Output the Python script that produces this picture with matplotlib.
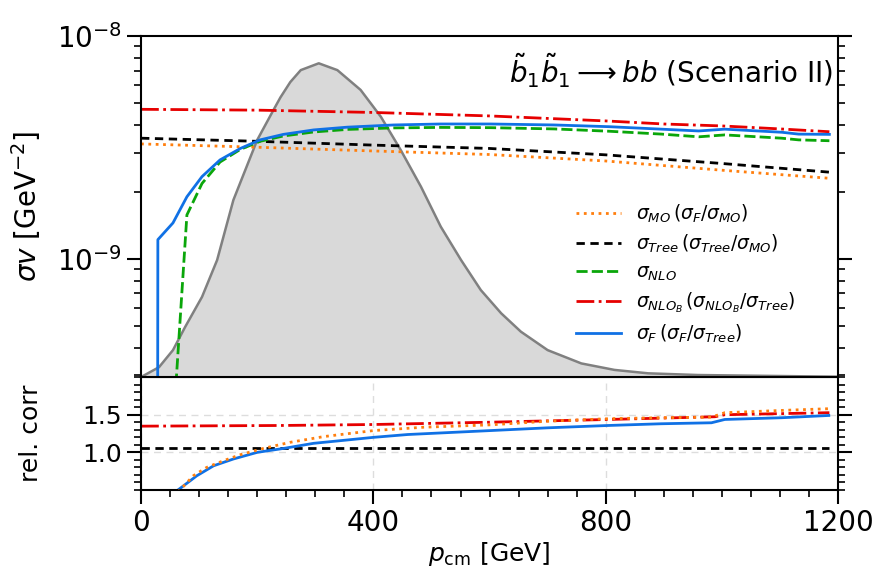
import matplotlib
matplotlib.use("Agg")
import matplotlib.pyplot as plt
from matplotlib.ticker import FixedLocator, MultipleLocator, NullFormatter, LogLocator

# momentum distribution (arbitrary units, fraction of panel height)
p_dist = [0, 31, 55, 76, 105, 131, 159, 200, 228, 240, 257, 275, 306, 338, 378, 413,
          447, 482, 516, 551, 585, 620, 654, 700, 758, 815, 873, 959, 1200]
f_dist = [0.0, 0.029, 0.079, 0.147, 0.235, 0.343, 0.519, 0.695, 0.783, 0.820, 0.865,
          0.900, 0.920, 0.900, 0.842, 0.763, 0.666, 0.558, 0.441, 0.343, 0.255, 0.187,
          0.133, 0.079, 0.040, 0.021, 0.011, 0.006, 0.001]

# cross sections, units of 1e-9 GeV^-2
p_mo = [0, 200, 400, 600, 800, 1000, 1185]
sig_mo = [3.28, 3.17, 3.05, 2.94, 2.75, 2.50, 2.30]
p_tree = [0, 200, 400, 600, 800, 1000, 1185]
sig_tree = [3.48, 3.37, 3.24, 3.13, 2.93, 2.68, 2.45]
p_nlo = [55, 79, 105, 136, 171, 205, 245, 297, 355, 435, 516, 602, 711, 805, 896,
         960, 1005, 1103, 1132, 1185]
sig_nlo = [0.17, 1.575, 2.18, 2.72, 3.10, 3.37, 3.56, 3.71, 3.81, 3.87, 3.89, 3.88,
           3.83, 3.74, 3.63, 3.53, 3.60, 3.48, 3.42, 3.39]
p_nlob = [0, 200, 400, 600, 800, 900, 1000, 1100, 1185]
sig_nlob = [4.69, 4.65, 4.54, 4.38, 4.16, 4.03, 3.95, 3.83, 3.72]
p_f = [28, 29, 55, 79, 105, 136, 171, 205, 245, 297, 355, 435, 516, 602, 711, 805,
       896, 960, 1005, 1103, 1132, 1185]
sig_f = [0.01, 1.22, 1.45, 1.90, 2.34, 2.78, 3.13, 3.42, 3.62, 3.79, 3.90, 3.99, 4.03,
         4.03, 3.99, 3.92, 3.82, 3.75, 3.82, 3.70, 3.63, 3.62]

# relative corrections
p_r_f_mo = [55, 90, 113, 142, 171, 211, 257, 315, 401, 487, 603, 700, 804, 896, 982,
            1005, 1103, 1184]
r_f_mo = [0.40, 0.689, 0.80, 0.889, 0.969, 1.053, 1.134, 1.21, 1.29, 1.334, 1.366,
          1.414, 1.447, 1.46, 1.468, 1.527, 1.557, 1.58]
p_r_tree_mo = [0, 1185]
r_tree_mo = [1.059, 1.059]
p_r_nlob_tree = [0, 240, 400, 603, 805, 988, 1005, 1185]
r_nlob_tree = [1.348, 1.357, 1.37, 1.401, 1.437, 1.473, 1.50, 1.527]
p_r_f_tree = [55, 96, 125, 159, 200, 246, 297, 344, 401, 459, 603, 700, 804, 896, 982,
              1005, 1103, 1184]
r_f_tree = [0.45, 0.689, 0.822, 0.912, 1.0, 1.053, 1.12, 1.156, 1.20, 1.237, 1.29,
            1.326, 1.357, 1.38, 1.393, 1.437, 1.46, 1.49]

c_mo, c_tree, c_nlo, c_nlob, c_f = "#ff7f0e", "black", "#0aa60a", "#e60000", "#1071e5"
lw = 2

fig = plt.figure(figsize=(8.88, 5.81), dpi=100)
ax = fig.add_axes([0.1588, 0.351, 0.785, 0.587])
axr = fig.add_axes([0.1588, 0.1566, 0.785, 0.1944], sharex=ax)

# distribution on a twin linear axis, behind the curves
tw = ax.twinx()
tw.fill_between(p_dist, 0, f_dist, color="#d9d9d9", lw=0)
tw.plot(p_dist, f_dist, color="#808080", lw=1.8)
tw.set_ylim(0, 1)
tw.set_axis_off()
ax.set_zorder(tw.get_zorder() + 1)
ax.patch.set_visible(False)

e = 1e-9
ax.plot(p_mo, [v * e for v in sig_mo], ls=":", color=c_mo, lw=lw,
        label=r"$\sigma_{MO}\,(\sigma_F/\sigma_{MO})$")
ax.plot(p_tree, [v * e for v in sig_tree], ls=(0, (3, 2)), color=c_tree, lw=lw,
        label=r"$\sigma_{Tree}\,(\sigma_{Tree}/\sigma_{MO})$")
ax.plot(p_nlo, [v * e for v in sig_nlo], ls=(0, (4, 1.5)), color=c_nlo, lw=lw,
        label=r"$\sigma_{NLO}$")
ax.plot(p_nlob, [v * e for v in sig_nlob], ls="-.", color=c_nlob, lw=lw,
        label=r"$\sigma_{NLO_B}\,(\sigma_{NLO_B}/\sigma_{Tree})$")
ax.plot(p_f, [v * e for v in sig_f], ls="-", color=c_f, lw=lw,
        label=r"$\sigma_F\,(\sigma_F/\sigma_{Tree})$")

ax.set_yscale("log")
ax.set_ylim(2.95e-10, 1e-8)
ax.set_xlim(0, 1200)
ax.yaxis.set_major_locator(LogLocator(base=10))
ax.yaxis.set_minor_locator(LogLocator(base=10, subs=range(2, 10)))
ax.yaxis.set_minor_formatter(NullFormatter())
ax.tick_params(axis="y", which="both", direction="out", left=True, right=True, labelsize=20)
ax.tick_params(axis="y", which="major", length=10, width=1.5)
ax.tick_params(axis="y", which="minor", length=5, width=1.2)
ax.tick_params(axis="x", which="both", bottom=False, labelbottom=False)
ax.set_ylabel(r"$\sigma v$ [GeV$^{-2}$]", fontsize=20)
ax.yaxis.set_label_coords(-0.14, 0.5)
ax.text(0.993, 0.955, r"$\tilde{b}_1\tilde{b}_1 \longrightarrow bb$ (Scenario II)",
        transform=ax.transAxes, ha="right", va="top", fontsize=20)
ax.legend(loc="upper left", bbox_to_anchor=(0.6, 0.56), frameon=False, fontsize=13.5,
          handlelength=2.4, labelspacing=0.4)

axr.plot(p_r_f_mo, r_f_mo, ls=":", color=c_mo, lw=lw, zorder=4)
axr.plot(p_r_tree_mo, r_tree_mo, ls=(0, (3, 2)), color=c_tree, lw=lw)
axr.plot(p_r_nlob_tree, r_nlob_tree, ls="-.", color=c_nlob, lw=lw)
axr.plot(p_r_f_tree, r_f_tree, ls="-", color=c_f, lw=lw)
axr.set_ylim(0.5, 2.0)
axr.set_xlim(0, 1200)
axr.xaxis.set_major_locator(FixedLocator([0, 400, 800, 1200]))
axr.xaxis.set_minor_locator(MultipleLocator(50))
axr.yaxis.set_major_locator(FixedLocator([1.0, 1.5]))
axr.yaxis.set_minor_locator(MultipleLocator(0.1))
axr.grid(True, which="major", ls=(0, (5, 4)), color="#dddddd", lw=1)
axr.tick_params(axis="both", which="both", direction="out", left=True, right=True,
                labelsize=18)
axr.tick_params(axis="x", labelsize=20)
axr.tick_params(which="major", length=10, width=1.5)
axr.tick_params(which="minor", length=5, width=1.2)
axr.set_ylabel("rel. corr", fontsize=18)
axr.yaxis.set_label_coords(-0.14, 0.5)
axr.set_xlabel(r"$p_{\rm cm}$ [GeV]", fontsize=18, labelpad=2)

for a in (ax, axr):
    for s in a.spines.values():
        s.set_linewidth(1.5)

fig.savefig("out.png", dpi=100)
